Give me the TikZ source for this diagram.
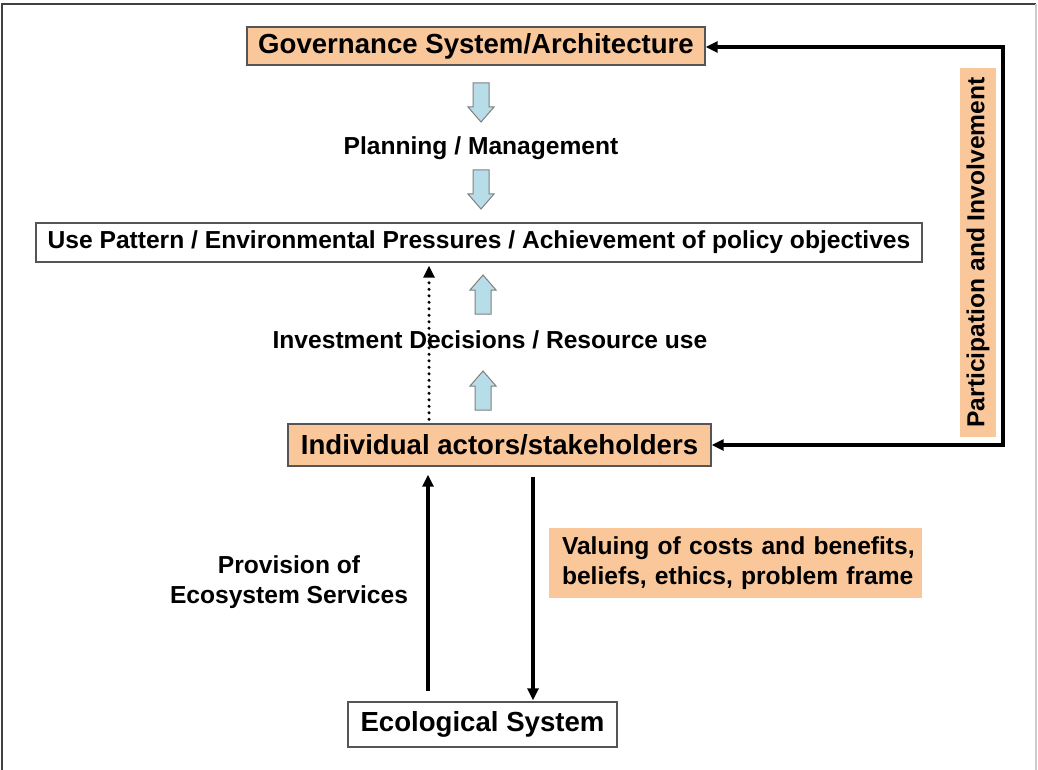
\documentclass[tikz,border=0pt]{standalone}
\usepackage{fontspec}
\setmainfont{Liberation Sans}
\usetikzlibrary{arrows.meta,calc}
\definecolor{peach}{RGB}{250,199,155}
\definecolor{lblue}{RGB}{183,221,232}
\definecolor{boxgray}{RGB}{85,85,85}
\tikzset{
  big/.style={font=\bfseries\fontsize{27.6}{33}\selectfont},
  small/.style={font=\bfseries\fontsize{24.6}{29.5}\selectfont},
  pbox/.style={draw=boxgray, line width=1.4pt, fill=peach, inner sep=0pt},
  wbox/.style={draw=boxgray, line width=1.4pt, fill=white, inner sep=0pt},
  conn/.style={line width=3.2pt, -{Triangle[length=12pt,width=11pt]}},
  dotconn/.style={line width=3.4pt, line cap=round, dash pattern=on 0pt off 6.5pt, -{Triangle[length=12pt,width=11pt]}},
  blockarrow/.style={draw=gray, line width=1pt, fill=lblue, line join=miter},
  pics/barrow/.style={code={\draw[blockarrow] (-8,0) -- (-8,24) -- (-13,24) -- (0,39) -- (13,24) -- (8,24) -- (8,0) -- cycle;}}
}
\begin{document}
\begin{tikzpicture}[x=1pt,y=-1pt]
\useasboundingbox[fill=white] (0,0) rectangle (1038,770);
% frame
\draw[line width=2pt, color=black!75] (2,770) -- (2,4) -- (1036,4);
\draw[line width=1.5pt, color=black!20] (1036,4) -- (1036,770);

% nodes
\node[pbox, big, minimum width=458pt, minimum height=38pt] (gov) at (476,46) {Governance System/Architecture};
\node[small] (plan) at (481,148) {Planning / Management};
\node[wbox, small, minimum width=886pt, minimum height=39pt] (use) at (479,242.5) {Use Pattern / Environmental Pressures / Achievement of policy objectives};
\node[small] (inv) at (490,340) {Investment Decisions / Resource use};
\node[pbox, big, minimum width=423pt, minimum height=42pt] (act) at (499.5,445) {Individual actors/stakeholders};
\node[wbox, big, minimum width=269pt, minimum height=45pt] (eco) at (482.5,724.5) {Ecological System};
\node[small, align=center] (prov) at (289,582) {Provision of\\Ecosystem Services};
\node[fill=peach, small, align=left, minimum width=373pt, minimum height=70pt, text width=347pt, inner sep=0pt] (val) at (735.5,563) {\mbox{Valuing of costs and benefits,}\\\mbox{beliefs, ethics, problem frame}};
\node[fill=peach, small, rotate=90, minimum width=369pt, minimum height=36pt, inner sep=0pt] (part) at (978,252.5) {Participation and Involvement};

% block arrows
\pic at (481,83) {barrow};
\pic at (481,170) {barrow};
\pic[rotate=180] at (483,314) {barrow};
\pic[rotate=180] at (483,410) {barrow};

% columns
\coordinate (cL) at (428,0);
\coordinate (cR) at (533,0);
\coordinate (cD) at (429,0);
\coordinate (loopT) at (1003,47);

% connectors
\draw[dotconn] ($(cD |- act.north)+(0,-4)$) -- ($(cD |- use.south)+(0,3)$);
\draw[conn] ($(cL |- eco.north)+(0,-10)$) -- ($(cL |- act.south)+(0,8)$);
\draw[conn] ($(cR |- act.south)+(0,10)$) -- ($(cR |- eco.north)+(0,-1)$);
\draw[line width=3.2pt, {Triangle[length=12pt,width=11pt]}-{Triangle[length=12pt,width=11pt]}, line join=miter]
  (gov.east |- loopT) -- (loopT) |- (act.east);
\end{tikzpicture}
\end{document}
